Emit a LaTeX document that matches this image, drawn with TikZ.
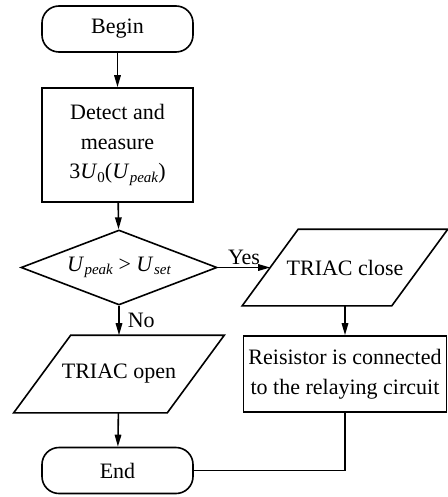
\documentclass[tikz,border=0pt]{standalone}
\usepackage{fontspec}
\setmainfont{Liberation Serif}
\usetikzlibrary{shapes.geometric,arrows.meta}
\newcommand\Usb[1]{\textit{U}\kern0.02em\raisebox{-0.35ex}{\fontsize{15}{15}\selectfont\textit{#1}}}
\newcommand\ioshape[2]{\draw[ioline] ([xshift=-#2]#1.south west) -- ([xshift=-#2]#1.south east) -- ([xshift=#2]#1.north east) -- ([xshift=#2]#1.north west) -- cycle;}
\begin{document}
\begin{tikzpicture}[x=1pt,y=-1pt,
  every node/.style={font=\fontsize{22}{29.5}\selectfont, inner sep=0pt, line width=1.6pt},
  terminal/.style={draw, rounded corners=17pt, minimum width=151pt, minimum height=46pt},
  procbox/.style={draw, align=center},
  decision/.style={draw, diamond, aspect=2.6, minimum width=196pt, minimum height=75pt},
  io/.style={minimum height=76pt},
  ioline/.style={line width=1.6pt, line join=miter},
  flow/.style={line width=1.6pt, -{Triangle[length=12pt,width=6.5pt]}},
  link/.style={line width=1.6pt}]
\useasboundingbox (0,0) rectangle (447,497);
\node[terminal] (begin) at (117.5,29) {Begin};
\node[procbox, minimum width=151pt, minimum height=114pt] (detect) at (117.5,145) {Detect and\\measure\\3\textit{U}\raisebox{-0.35ex}{\fontsize{15}{15}\selectfont 0}(\Usb{peak})};
\node[decision] (dec) at (119,267.5) {\Usb{peak} > \Usb{set}};
\node[io, minimum width=152pt] (open) at (119,374) {TRIAC open};
\ioshape{open}{28.5pt}
\node[terminal] (end) at (117.5,470.5) {End};
\node[io, minimum width=148pt, minimum height=75pt] (close) at (345,267.5) {TRIAC close};
\ioshape{close}{28pt}
\node[procbox, minimum width=203pt, minimum height=76pt] (res) at (345,374) {Reisistor is connected\\to the relaying circuit};
\draw[flow] (begin) -- (detect);
\draw[flow] (detect) -- (dec);
\draw[flow] (dec) -- node[right, xshift=8pt]{No} (open);
\draw[flow] (dec) -- node[above, yshift=2pt]{Yes} (close);
\draw[flow] (close) -- (res);
\draw[flow] (open) -- (end);
\draw[link] (res.south) |- (end.east);
\end{tikzpicture}
\end{document}
